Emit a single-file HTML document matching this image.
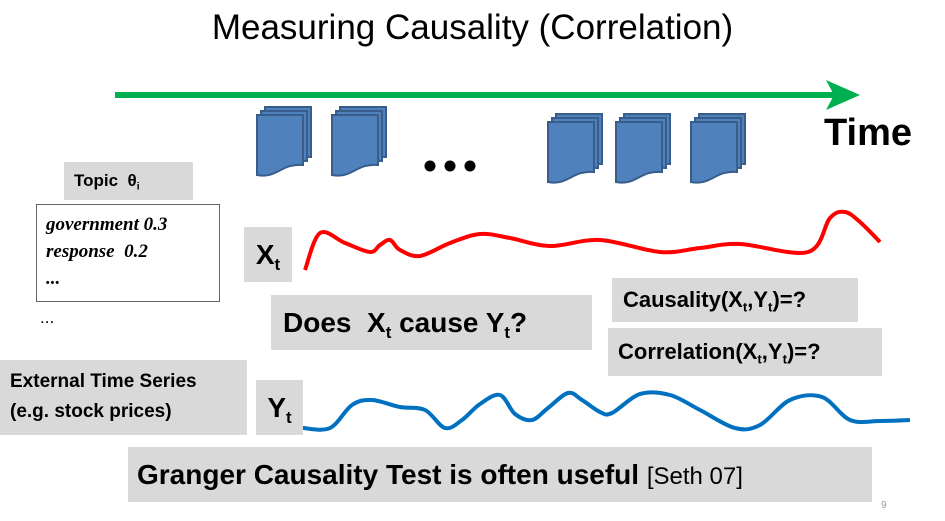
<!DOCTYPE html>
<html><head><meta charset="utf-8"><style>
body{margin:0;width:945px;height:521px;background:#fff;overflow:hidden;position:relative;font-family:"Liberation Sans",sans-serif}
.box{position:absolute;background:#d9d9d9;font-weight:bold;color:#000;white-space:nowrap}
sub{font-size:60%;vertical-align:-0.35em}
</style></head><body>
<div style="position:absolute;left:0;width:945px;top:8px;text-align:center;font-size:35px;color:#000">Measuring Causality (Correlation)</div>
<svg width="945" height="521" style="position:absolute;left:0;top:0">
<line x1="115" y1="95" x2="840" y2="95" stroke="#00b050" stroke-width="6"/>
<polygon points="826,80 860,95 826,110 834,95" fill="#00b050"/>
<g id="docs"></g>
<g fill="#000"><circle cx="430" cy="166" r="5.5"/><circle cx="450" cy="166" r="5.5"/><circle cx="470" cy="166" r="5.5"/></g>
<path id="xcurve" fill="none" stroke="#ff0000" stroke-width="4"/>
<path id="ycurve" fill="none" stroke="#0070c0" stroke-width="4"/>
</svg>
<div style="position:absolute;left:824px;top:112px;font-size:38px;font-weight:bold">Time</div>
<div class="box" style="left:64px;top:162px;width:129px;height:38px;font-size:17px;line-height:38px;padding-left:10px;box-sizing:border-box">Topic &nbsp;θ<sub>i</sub></div>
<div style="position:absolute;left:36px;top:204px;width:184px;height:98px;border:1px solid #666;box-sizing:border-box;font-family:'Liberation Serif',serif;font-style:italic;font-weight:bold;font-size:19px;line-height:27px;padding:6px 0 0 9px">government 0.3<br>response &nbsp;0.2<br>...</div>
<div style="position:absolute;left:40px;top:308px;font-size:17px">...</div>
<div class="box" style="left:0;top:360px;width:247px;height:75px;font-size:19px;line-height:30px;padding:7px 0 0 10px;box-sizing:border-box">External Time Series<br>(e.g. stock prices)</div>
<div class="box" style="left:244px;top:227px;width:48px;height:55px;font-size:28px;line-height:55px;text-align:center">X<sub>t</sub></div>
<div class="box" style="left:256px;top:380px;width:47px;height:55px;font-size:28px;line-height:55px;text-align:center">Y<sub>t</sub></div>
<div class="box" style="left:271px;top:295px;width:321px;height:55px;font-size:28px;line-height:55px;padding-left:12px;box-sizing:border-box">Does &nbsp;X<sub>t</sub> cause Y<sub>t</sub>?</div>
<div class="box" style="left:612px;top:278px;width:246px;height:44px;font-size:22px;line-height:44px;padding-left:11px;box-sizing:border-box">Causality(X<sub>t</sub>,Y<sub>t</sub>)=?</div>
<div class="box" style="left:608px;top:328px;width:274px;height:48px;font-size:22px;line-height:48px;padding-left:10px;box-sizing:border-box">Correlation(X<sub>t</sub>,Y<sub>t</sub>)=?</div>
<div class="box" style="left:128px;top:447px;width:744px;height:55px;font-size:28px;line-height:55px;padding-left:9px;box-sizing:border-box">Granger Causality Test is often useful <span style="font-weight:normal;font-size:24px">[Seth 07]</span></div>
<div style="position:absolute;left:881px;top:500px;font-size:10px;color:#999">9</div>
<script>
const docX=[257,332,548,616,691];
const xSeriesX=[305,320,345,370,380,390,400,420,450,480,510,550,600,660,700,740,808,830,845,860,880];
const xSeriesY=[270,233,243,252,245,240,250,256,243,234,238,246,240,252,248,244,252,218,212,222,242];
const ySeriesX=[303,330,352,372,400,425,445,462,480,500,515,532,548,568,582,600,612,640,670,700,735,760,790,822,850,880,910];
const ySeriesY=[428,428,405,400,407,410,428,420,404,395,414,420,408,393,400,412,413,394,395,410,428,425,400,397,420,421,420];
function smooth(xs,ys){
  let d='M'+xs[0]+','+ys[0];
  for(let i=0;i<xs.length-1;i++){
    const x0=xs[Math.max(i-1,0)],y0=ys[Math.max(i-1,0)],x1=xs[i],y1=ys[i],x2=xs[i+1],y2=ys[i+1],x3=xs[Math.min(i+2,xs.length-1)],y3=ys[Math.min(i+2,xs.length-1)];
    d+=' C'+(x1+(x2-x0)/6)+','+(y1+(y2-y0)/6)+' '+(x2-(x3-x1)/6)+','+(y2-(y3-y1)/6)+' '+x2+','+y2;
  }
  return d;
}
document.getElementById('xcurve').setAttribute('d',smooth(xSeriesX,xSeriesY));
document.getElementById('ycurve').setAttribute('d',smooth(ySeriesX,ySeriesY));
const g=document.getElementById('docs');
const NS='http://www.w3.org/2000/svg';
docX.forEach((x,i)=>{
  const grp=document.createElementNS(NS,'g');
  
  
  const top=i<2?107:114;
  for(let k=2;k>=0;k--){
    const p=document.createElementNS(NS,'path');
    const w=46,h=50;
    const px=x+k*4, py=top+(2-k)*4;
    p.setAttribute('d',`M${px},${py} h${w} v${h} c-22,-2 -26,14 -${w},10 z`);
    p.setAttribute('fill','#4f81bd');
    p.setAttribute('stroke','#385d8a');
    p.setAttribute('stroke-width','2');
    grp.appendChild(p);
  }
  g.appendChild(grp);
});
</script>
</body></html>
